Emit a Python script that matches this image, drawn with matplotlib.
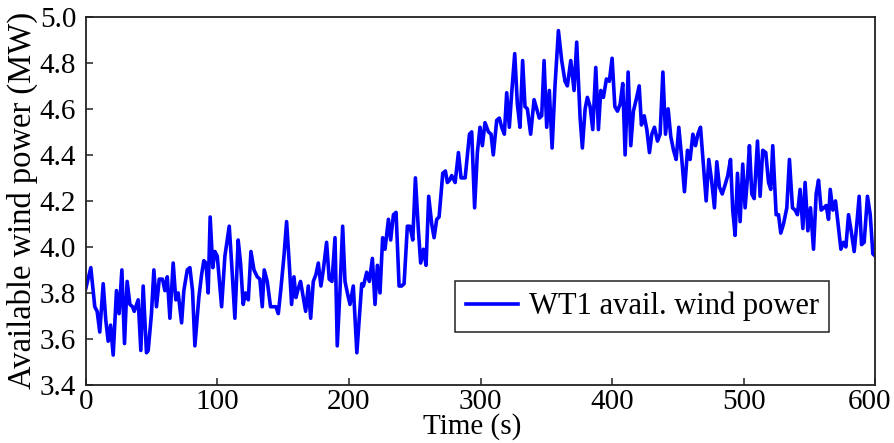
import matplotlib
matplotlib.use("Agg")
import matplotlib.pyplot as plt
from matplotlib.transforms import ScaledTranslation

# Available wind power of WT1, sampled from the 10-minute record
time_s = [
    0, 3.8, 6.8, 8.6, 10.6, 13.2, 15.2, 17, 18.8, 20.8, 23.3, 25.3, 27.4, 29.4,
    31.4, 33.5, 35.5, 36.8, 39.8, 41.8, 43.6, 46.1, 47.4, 49.9, 51.7, 53.7,
    55.8, 58.3, 60.1, 61.9, 63.9, 66.4, 68.4, 70.2, 72.8, 74.5, 77.1, 79.1,
    81.1, 82.9, 85.9, 88, 89.7, 91.3, 93, 94.5, 96.5, 98.1, 99.9, 103.2, 105.7,
    109, 110.8, 113.3, 115.8, 117.6, 119.6, 121.4, 123.5, 125.5, 127.8, 130.3,
    132.3, 134.1, 135.6, 137.9, 140.4, 142.5, 144.5, 146.3, 148.3, 150.6,
    152.6, 154.6, 156.4, 158.2, 159.7, 161.5, 163.2, 165.3, 167.1, 169.1,
    170.9, 172.9, 174.9, 176.7, 178.7, 180.5, 183, 185, 187.1, 189.4, 191.1,
    193.1, 195.2, 197, 198.8, 200.8, 203.3, 206, 209.7, 211, 213.5, 215.5,
    217.8, 219.8, 221.6, 223.6, 225.6, 227.4, 230, 231.7, 233.8, 235.8, 238.1,
    240, 241.9, 244.4, 246.4, 248.5, 250.5, 252.8, 254.5, 256.6, 258.6, 260.6,
    262.9, 264.7, 266.7, 268.5, 271.3, 273.3, 274.8, 276.5, 278.1, 280.7,
    283.2, 285.2, 288.3, 291.6, 293.3, 295.5, 297.6, 299.6, 301.4, 303.4, 306,
    308, 309.7, 312.3, 314.3, 316.1, 318.1, 319.9, 321.9, 323.7, 326, 328, 330,
    332, 333.8, 335.6, 338.1, 340.7, 342.7, 344.7, 346.5, 348.3, 350.3, 352.3,
    354.4, 356.6, 359.2, 361.7, 364.2, 366, 368.6, 371.1, 373.1, 375.7, 377.4,
    379.5, 381.2, 383.3, 385.3, 387.6, 389.6, 391.4, 393.4, 395.7, 397.9, 400,
    402.1, 404.1, 406.1, 408.1, 409.9, 412.2, 414.2, 416.2, 418.3, 420.6,
    422.3, 424.4, 426.4, 428.4, 430.2, 432.2, 434.5, 436.5, 438.6, 440.6,
    442.6, 444.6, 446.7, 448.7, 450.7, 453, 455, 457.3, 459.3, 461.4, 463.4,
    465.2, 467.2, 469.5, 471.5, 473.5, 475.6, 477.8, 479.6, 481.6, 483.7,
    485.9, 487.9, 490, 491.7, 493.5, 495.3, 497.3, 499.3, 501.1, 502.9, 504.4,
    506.2, 508, 510.5, 512.5, 514.5, 516.8, 518.9, 520.6, 522.1, 524.7, 526.5,
    528.2, 530.3, 532.8, 534.8, 537.1, 539.1, 540.9, 542.9, 545, 546.7, 548.8,
    550.8, 553.1, 555.1, 556.9, 558.9, 561, 562.7, 564.5, 565.8, 567.8, 569.8,
    572.1, 573.9, 575.9, 577.7, 579.7, 581.7, 584, 586, 587.8, 589.6, 591.6,
    594.1, 596.2, 598.2, 600,
]
power_mw = [
    3.82, 3.91, 3.74, 3.72, 3.63, 3.84, 3.68, 3.59, 3.66, 3.53, 3.81, 3.71, 3.90,
    3.58, 3.85, 3.75, 3.74, 3.72, 3.77, 3.55, 3.83, 3.54, 3.55, 3.71, 3.90,
    3.74, 3.86, 3.86, 3.81, 3.87, 3.69, 3.93, 3.77, 3.80, 3.67, 3.81, 3.90,
    3.91, 3.81, 3.57, 3.78, 3.88, 3.94, 3.93, 3.80, 4.13, 3.91, 3.98, 3.96,
    3.74, 3.96, 4.09, 3.93, 3.69, 4.03, 3.93, 3.75, 3.80, 3.77, 3.98, 3.90,
    3.87, 3.86, 3.74, 3.90, 3.85, 3.74, 3.74, 3.74, 3.71, 3.82, 3.96, 4.11,
    3.93, 3.75, 3.87, 3.78, 3.82, 3.85, 3.78, 3.72, 3.83, 3.69, 3.85, 3.88,
    3.93, 3.83, 3.90, 4.02, 3.86, 3.85, 4.04, 3.57, 3.80, 4.09, 3.85, 3.80,
    3.75, 3.83, 3.54, 3.84, 3.83, 3.89, 3.85, 3.95, 3.75, 3.92, 3.80, 4.04,
    3.99, 4.12, 4.03, 4.14, 4.15, 3.83, 3.83, 3.84, 4.09, 4.09, 4.03, 4.30,
    4.07, 3.93, 3.99, 3.92, 4.22, 4.10, 4.04, 4.12, 4.13, 4.32, 4.33, 4.28,
    4.29, 4.31, 4.28, 4.41, 4.30, 4.30, 4.49, 4.50, 4.17, 4.41, 4.52, 4.44,
    4.54, 4.50, 4.49, 4.40, 4.55, 4.56, 4.52, 4.49, 4.67, 4.52, 4.67, 4.84,
    4.62, 4.52, 4.81, 4.61, 4.60, 4.49, 4.64, 4.60, 4.56, 4.57, 4.81, 4.52,
    4.68, 4.43, 4.70, 4.94, 4.81, 4.72, 4.70, 4.81, 4.68, 4.89, 4.56, 4.43,
    4.60, 4.65, 4.61, 4.51, 4.78, 4.51, 4.68, 4.65, 4.73, 4.72, 4.82, 4.61,
    4.59, 4.62, 4.71, 4.40, 4.76, 4.44, 4.59, 4.64, 4.70, 4.53, 4.57, 4.51,
    4.41, 4.49, 4.52, 4.46, 4.49, 4.76, 4.49, 4.60, 4.48, 4.42, 4.38, 4.52,
    4.38, 4.24, 4.42, 4.38, 4.49, 4.44, 4.49, 4.52, 4.35, 4.20, 4.38, 4.29,
    4.17, 4.37, 4.26, 4.23, 4.27, 4.31, 4.38, 4.16, 4.05, 4.32, 4.11, 4.36,
    4.17, 4.30, 4.44, 4.23, 4.21, 4.46, 4.22, 4.42, 4.41, 4.28, 4.25, 4.44,
    4.14, 4.14, 4.06, 4.10, 4.17, 4.38, 4.17, 4.16, 4.14, 4.25, 4.08, 4.28,
    4.07, 4.17, 3.99, 4.23, 4.29, 4.16, 4.17, 4.18, 4.12, 4.25, 4.16, 4.20,
    4.08, 3.99, 4.02, 4.00, 4.14, 4.07, 3.98, 4.10, 4.22, 4.01, 4.02, 4.22,
    4.14, 3.97, 3.96,
]
x_ticks = [0, 100, 200, 300, 400, 500, 600]
y_ticks = [3.4, 3.6, 3.8, 4.0, 4.2, 4.4, 4.6, 4.8, 5.0]

plt.rcParams['font.family'] = ['Liberation Serif', 'DejaVu Serif']

fig = plt.figure(figsize=(8.94, 4.43), dpi=100)
ax = fig.add_axes([0.096, 0.131, 0.883, 0.831])

ax.plot(time_s, power_mw, color='#0000ff', linewidth=2.6,
        label='WT1 avail. wind power')

ax.set_xlim(0, 600)
ax.set_ylim(3.4, 5.0)
ax.set_xticks(x_ticks)
ax.set_yticks(y_ticks)
ax.set_yticklabels([f'{v:.1f}' for v in y_ticks])

for side in ax.spines.values():
    side.set_linewidth(1.3)
    side.set_color('#222222')

ax.tick_params(axis='both', direction='in', length=5, width=1.1,
               labelsize=21, color='#222222')
ax.tick_params(axis='x', pad=3)
ax.tick_params(axis='y', pad=7)

# nudge the last x label so it stays inside the figure
last = ax.get_xticklabels()[-1]
last.set_transform(last.get_transform() + ScaledTranslation(-4 / 72, 0, fig.dpi_scale_trans))

ax.set_xlabel('Time (s)', fontsize=21)
ax.set_ylabel('Available wind power (MW)', fontsize=23.5)
ax.xaxis.set_label_coords(0.49, -0.075)
ax.yaxis.set_label_coords(-0.061, 0.5)

leg = ax.legend(loc='lower right', bbox_to_anchor=(0.942, 0.144),
                borderaxespad=0, fontsize=22, fancybox=False, framealpha=1,
                handlelength=1.7, borderpad=0.35, handletextpad=0.35)
leg.get_frame().set_edgecolor('#222222')
leg.get_frame().set_linewidth(1.1)

fig.savefig('out.png', dpi=100)
